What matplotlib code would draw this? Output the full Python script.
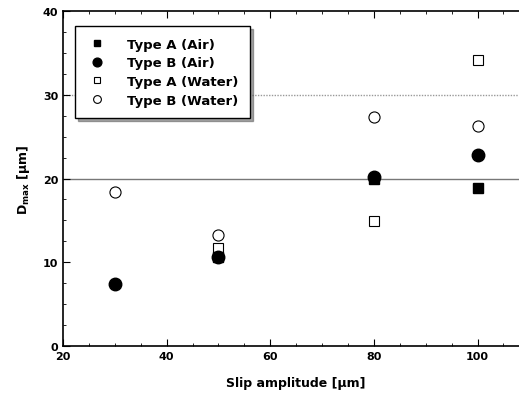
import matplotlib
matplotlib.use("Agg")
import matplotlib.pyplot as plt
from matplotlib.ticker import MultipleLocator

x_typeA_air = [50, 80, 100]
y_typeA_air = [10.6, 20.0, 18.9]
x_typeB_air = [30, 50, 80, 100]
y_typeB_air = [7.4, 10.6, 20.2, 22.8]
x_typeA_water = [50, 80, 100]
y_typeA_water = [11.7, 14.9, 34.1]
x_typeB_water = [30, 50, 80, 100]
y_typeB_water = [18.4, 13.3, 27.4, 26.3]

plt.rcParams['font.family'] = ['DejaVu Sans']
plt.rcParams['font.weight'] = 'bold'

fig = plt.figure(figsize=(5.19, 4.02), dpi=100)
ax = fig.add_axes([0.1214, 0.1368, 0.8786 + 0.02, 0.8332])

ax.axhline(20, color='#777777', lw=1.0, zorder=0)
ax.axhline(30, color='#999999', lw=1.0, ls=(0, (1, 1)), zorder=0)

ax.plot(x_typeA_water, y_typeA_water, 's', mfc='white', mec='black', mew=0.8, ms=7, label='Type A (Water)', zorder=3)
ax.plot(x_typeB_water, y_typeB_water, 'o', mfc='white', mec='black', mew=0.8, ms=8, label='Type B (Water)', zorder=3)
ax.plot(x_typeA_air, y_typeA_air, 's', color='black', ms=6.5, label='Type A (Air)', zorder=4)
ax.plot(x_typeB_air, y_typeB_air, 'o', color='black', ms=9, label='Type B (Air)', zorder=5)

ax.set_xlim(20, 110)
ax.set_ylim(0, 40)
ax.xaxis.set_major_locator(MultipleLocator(20))
ax.yaxis.set_major_locator(MultipleLocator(10))
ax.xaxis.set_minor_locator(MultipleLocator(5))
ax.yaxis.set_minor_locator(MultipleLocator(2.5))
ax.tick_params(which='both', direction='in', top=True, right=True, labelsize=8)
ax.tick_params(which='major', length=5)
ax.tick_params(which='minor', length=2)
for s in ax.spines.values():
    s.set_linewidth(1.2)

ax.set_xlabel('Slip amplitude [μm]', fontsize=9, fontweight='bold', labelpad=11)
ax.set_ylabel('D$_{\\mathbf{max}}$ [μm]', fontsize=9, fontweight='bold', labelpad=8)

handles, labels = ax.get_legend_handles_labels()
order = [2, 3, 0, 1]
leg = ax.legend([handles[i] for i in order], [labels[i] for i in order],
                loc='upper left', bbox_to_anchor=(0.012, 0.975), frameon=True,
                fancybox=False, shadow=True, fontsize=9.5, handletextpad=1.5,
                borderpad=0.9, labelspacing=0.42, markerscale=0.7, handlelength=1.5)
leg.get_frame().set_edgecolor('black')
leg.get_frame().set_linewidth(1.0)

fig.savefig('out.png', dpi=100)
